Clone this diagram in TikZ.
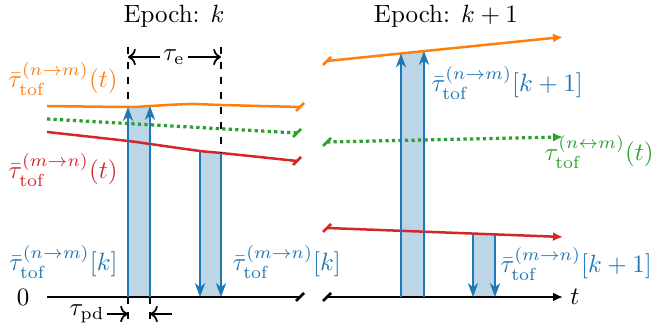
\documentclass[tikz,border=0pt]{standalone}
\usepackage{amsmath}
\definecolor{TOFblue}{HTML}{1F77B4}
\definecolor{TOForange}{HTML}{FF7F0E}
\definecolor{TOFgreen}{HTML}{2CA02C}
\definecolor{TOFred}{HTML}{D62728}
\usetikzlibrary{calc, arrows.meta, positioning}
\newcommand{\tofbar}{\bar{\tau}_{\mathrm{tof}}}
\newcommand{\brkmark}[2]{\draw[#2, line width=1pt] ($(#1)+(-4,4)$) -- ($(#1)+(4,-4)$);}

\begin{document}
\begin{tikzpicture}[x=0.4pt, y=-0.4pt,
  trace/.style={line width=1pt},
  dottrace/.style={line width=1.3pt, dash pattern=on 1.3pt off 1.3pt},
  tiptrace/.style={-{Latex[length=4pt,width=3.6pt]}},
  pulse/.style={TOFblue, line width=1pt, -{Stealth[length=5.5pt,width=4pt,inset=1.6pt]}},
  window/.style={fill=TOFblue!30},
  guide/.style={black, dashed, line width=0.7pt}]
\useasboundingbox (0,0) rectangle (667,330);

\node[anchor=base] (epk) at (174,23) {Epoch: $k$};
\node[anchor=base] (epk1) at (446,23) {Epoch: $k+1$};

% left epoch
\coordinate (ax0) at (47,297);
\coordinate (ax1) at (300,297);
\coordinate (u1) at (128,297); \coordinate (u1t) at (128,107);
\coordinate (u2) at (150,297); \coordinate (u2t) at (150,106);
\coordinate (d1) at (200,297); \coordinate (d1t) at (200,151);
\coordinate (d2) at (221,297); \coordinate (d2t) at (221,153);

\fill[window] (u1) -- (u1t) -- (u2t) -- (u2) -- cycle;
\fill[window] (d1) -- (d1t) -- (d2t) -- (d2) -- cycle;

\draw[trace, black] (ax0) -- (ax1);
\brkmark{ax1}{black}
\draw[trace, TOForange] plot[smooth] coordinates {(47,106) (128,107) (150,106) (190,104) (221,105) (300,107)};
\brkmark{300,107}{TOForange}
\draw[dottrace, TOFgreen] (47,119) -- (297,133);
\brkmark{297,133}{TOFgreen}
\draw[trace, TOFred] plot[smooth] coordinates {(47,132) (128,141) (150,144) (200,151) (221,153) (297,161)};
\brkmark{297,161}{TOFred}

\draw[pulse] (u1) -- (u1t);
\draw[pulse] (u2) -- (u2t);
\draw[pulse] (d1t) -- (d1);
\draw[pulse] (d2t) -- (d2);

\coordinate (g1) at (128,47);
\coordinate (g2) at (221,47);
\draw[guide] (g1) -- (u1t);
\draw[guide] (g2) -- (d2t);
\node[inner sep=1pt] (te) at (174,57) {$\tau_{\mathrm{e}}$};
\draw[->, line width=0.7pt] (te.west) -- (te.west -| g1);
\draw[->, line width=0.7pt] (te.east) -- (te.east -| g2);

\coordinate (p1) at (128,321);
\coordinate (p2) at (150,321);
\draw[guide] (u1) -- (p1);
\draw[guide] (u2) -- (p2);
\node[inner sep=1pt] (tpd) at (87,314) {$\tau_{\mathrm{pd}}$};
\draw[->, line width=0.7pt] (tpd.east) -- (tpd.east -| p1);
\draw[->, line width=0.7pt] (172,314 |- tpd.east) -- (tpd.east -| p2);

\node (zero) at (23,297) {$0$};
\node[anchor=base east, inner sep=0pt, TOForange] (lorange) at (118,88) {$\tofbar^{(n\rightarrow m)}(t)$};
\node[anchor=base east, inner sep=0pt, TOFred] (lred) at (118,179) {$\tofbar^{(m\rightarrow n)}(t)$};
\node[anchor=base east, inner sep=0pt, TOFblue] (lup) at (118,271) {$\tofbar^{(n\rightarrow m)}[k]$};
\node[anchor=base west, inner sep=0pt, TOFblue] (ldown) at (232,271) {$\tofbar^{(m\rightarrow n)}[k]$};

% right epoch
\coordinate (bx0) at (327,297);
\coordinate (bx1) at (563,297);
\coordinate (v1) at (401,297); \coordinate (v1t) at (401,53.5);
\coordinate (v2) at (424,297); \coordinate (v2t) at (424,51);
\coordinate (e1) at (473,297); \coordinate (e1t) at (473,234);
\coordinate (e2) at (495,297); \coordinate (e2t) at (495,235);

\fill[window] (v1) -- (v1t) -- (v2t) -- (v2) -- cycle;
\fill[window] (e1) -- (e1t) -- (e2t) -- (e2) -- cycle;

\draw[trace, tiptrace, black] (bx0) -- (bx1);
\brkmark{bx0}{black}
\draw[trace, tiptrace, TOForange] (327,61) -- (563,37);
\brkmark{327,61}{TOForange}
\draw[dottrace, tiptrace, TOFgreen] (327,142) -- (563,137);
\brkmark{327,142}{TOFgreen}
\draw[trace, tiptrace, TOFred] (327,228) -- (563,237);
\brkmark{327,228}{TOFred}

\draw[pulse] (v1) -- (v1t);
\draw[pulse] (v2) -- (v2t);
\draw[pulse] (e1t) -- (e1);
\draw[pulse] (e2t) -- (e2);

\node (tlab) at (575,297) {$t$};
\node[anchor=base west, inner sep=0pt, TOFblue] (rup) at (431,92) {$\tofbar^{(n\rightarrow m)}[k+1]$};
\node[anchor=base west, inner sep=0pt, TOFgreen] (rgreen) at (544,161) {$\tau_{\mathrm{tof}}^{(n\leftrightarrow m)}(t)$};
\node[anchor=base west, inner sep=0pt, TOFblue] (rdown) at (500,273) {$\tofbar^{(m\rightarrow n)}[k+1]$};
\end{tikzpicture}
\end{document}
